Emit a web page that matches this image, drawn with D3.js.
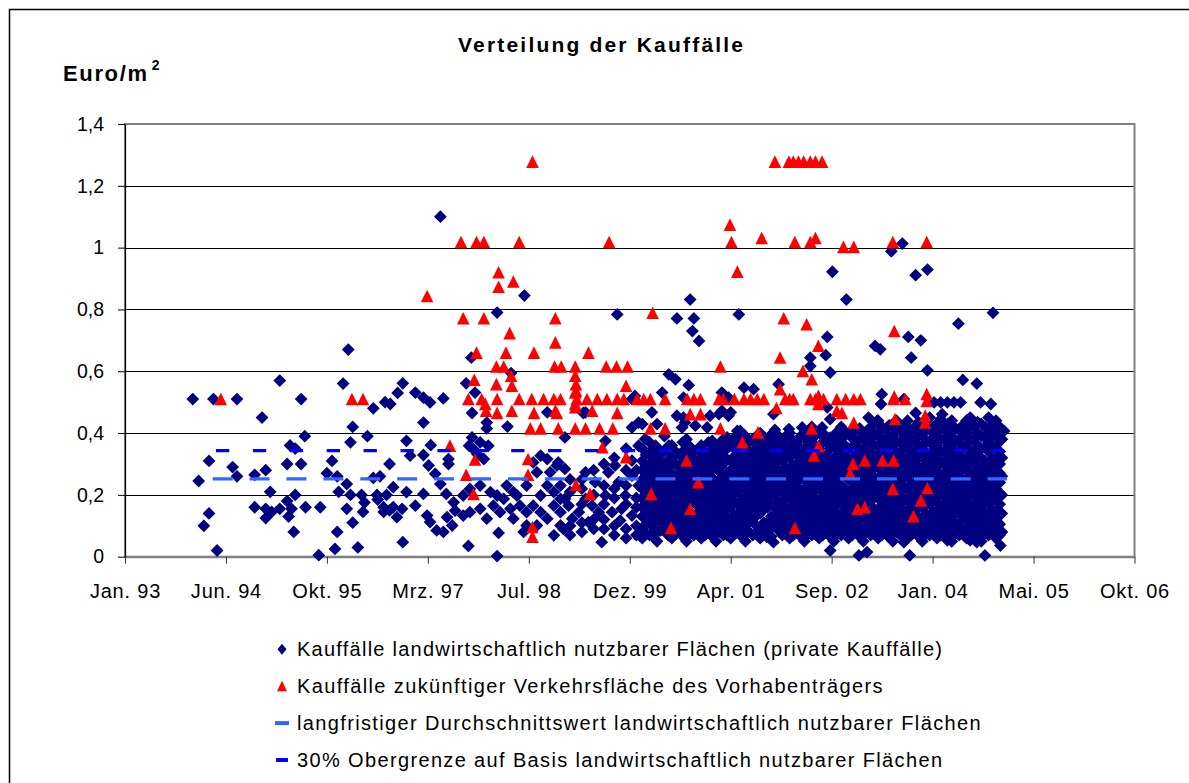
<!DOCTYPE html>
<html><head><meta charset="utf-8">
<script src="https://cdn.jsdelivr.net/npm/d3@7"></script>
<style>body{margin:0;background:#fff} text{font-family:"Liberation Sans",Arial,sans-serif}</style>
</head><body><svg id="c" width="1189" height="783"></svg>
<script>
const chartTitle = "Verteilung der Kauffälle";
const yAxisTitle = "Euro/m";
const xTickLabels = ["Jan. 93","Jun. 94","Okt. 95","Mrz. 97","Jul. 98","Dez. 99","Apr. 01","Sep. 02","Jan. 04","Mai. 05","Okt. 06"];
const xDomain = [1993.08, 2006.78];
const yTickValues = [0,0.2,0.4,0.6,0.8,1,1.2,1.4];
const yTickLabels = ["0","0,2","0,4","0,6","0,8","1","1,2","1,4"];
const seriesNames = [
  "Kauffälle landwirtschaftlich nutzbarer Flächen (private Kauffälle)",
  "Kauffälle zukünftiger Verkehrsfläche des Vorhabenträgers",
  "langfristiger Durchschnittswert landwirtschaftlich nutzbarer Flächen",
  "30% Obergrenze auf Basis landwirtschaftlich nutzbarer Flächen"
];
// private sales: [decimal year, Euro/m²]
const privateSales = [
[1994.00,0.51],[1994.28,0.51],[1994.60,0.51],[1994.94,0.45],[1995.18,0.57],[1995.47,0.51],[1996.04,0.56],[1996.11,0.67],[1996.45,0.48],[1996.61,0.50],[1996.17,0.42],[1996.14,0.37],[1996.37,0.39],[1995.52,0.39],[1995.32,0.36],[1995.39,0.35],[1994.22,0.31],[1994.08,0.245],[1994.54,0.29],[1994.60,0.26],[1994.22,0.14],[1994.15,0.10],[1994.33,0.02],[1995.28,0.30],[1995.47,0.30],[1994.84,0.265],[1994.99,0.28],[1995.05,0.21],[1994.84,0.16],[1994.99,0.155],[1995.07,0.145],[1994.99,0.125],[1995.18,0.155],[1995.28,0.18],[1995.30,0.13],[1995.39,0.20],[1995.34,0.155],[1995.53,0.16],[1995.73,0.16],[1995.37,0.08],[1995.71,0.005],[1995.96,0.08],[1995.93,0.025],[1996.24,0.03],[1995.89,0.31],[1995.82,0.27],[1995.96,0.26],[1996.09,0.235],[1995.98,0.21],[1996.14,0.20],[1996.09,0.155],[1996.29,0.20],[1996.33,0.175],[1996.31,0.145],[1996.50,0.20],[1996.51,0.185],[1996.63,0.20],[1996.67,0.15],[1996.59,0.145],[1996.54,0.26],[1996.45,0.255],[1996.17,0.11],
[1997.36,1.10],[1998.50,0.845],[1998.13,0.79],[1999.76,0.784],[1997.78,0.644],[1996.85,0.561],[1996.78,0.53],[1997.02,0.531],[1997.13,0.515],[1997.22,0.499],[1997.40,0.512],[1996.68,0.494],[1997.13,0.434],[1997.71,0.561],[1997.83,0.531],[1997.79,0.465],[1997.99,0.434],[1997.99,0.415],[1998.27,0.421],[1998.32,0.594],[1998.81,0.467],[1999.30,0.465],[1999.05,0.386],[1999.60,0.375],[2000.00,0.52],[2000.05,0.434],[1996.90,0.375],[1997.23,0.361],[1996.95,0.327],[1997.13,0.329],[1997.47,0.316],[1997.47,0.30],[1996.67,0.30],[1997.20,0.295],[1996.72,0.225],[1996.90,0.209],[1997.13,0.203],[1997.29,0.268],[1997.36,0.235],[1997.44,0.203],[1997.54,0.176],[1996.59,0.16],[1996.72,0.16],[1996.84,0.155],[1997.02,0.165],[1996.77,0.128],[1997.18,0.133],[1997.22,0.112],[1997.31,0.085],[1997.40,0.08],[1997.52,0.101],[1997.45,0.128],[1997.56,0.149],[1996.85,0.047],[1997.74,0.035],[1998.13,0.002],[1998.15,0.077],[1997.79,0.386],[1997.75,0.359],[1997.81,0.348],[1997.90,0.37],[1998.01,0.359],[1997.86,0.332],[1997.95,0.316],
[1997.67,0.198],[1997.76,0.219],[1997.90,0.23],[1998.04,0.209],[1998.13,0.198],[1998.22,0.187],[1998.08,0.165],[1997.90,0.155],[1997.76,0.144],[1997.67,0.133],[1997.99,0.123],[1998.17,0.144],[1998.31,0.155],[1998.40,0.198],[1998.44,0.165],[1998.35,0.123],[1998.53,0.144],[1998.62,0.165],[1998.72,0.198],[1998.81,0.23],[1998.90,0.209],[1998.90,0.165],[1998.81,0.123],[1998.67,0.101],[1998.72,0.144],[1998.53,0.101],[1998.49,0.08],[1998.90,0.069],[1998.99,0.101],[1998.99,0.144],[1998.99,0.187],[1998.35,0.209],[1998.26,0.23],[1998.53,0.23],[1998.62,0.305],[1998.72,0.327],[1998.81,0.316],[1998.67,0.273],[1998.85,0.273],[1998.94,0.295],[1999.55,0.047],
[1998.96,0.305],[1999.05,0.284],[1998.99,0.23],[1999.05,0.187],[1999.10,0.165],[1999.15,0.123],[1999.03,0.09],[1999.24,0.144],[1999.33,0.187],[1999.42,0.165],[1999.37,0.112],[1999.51,0.144],[1999.60,0.198],[1999.64,0.273],[1999.73,0.295],[1999.78,0.241],[1999.69,0.144],[1999.82,0.155],[1999.87,0.198],[1999.96,0.133],[1999.80,0.117],[2000.05,0.23],[1999.46,0.241],[1999.33,0.273],[1999.96,0.262],[1999.96,0.311],[2000.05,0.359],
[2000.87,0.698],[2000.46,0.59],[2000.55,0.574],[2000.73,0.555],[2000.37,0.531],[1999.96,0.51],[2000.66,0.515],[2001.18,0.531],[2001.27,0.515],[1999.33,0.467],[2000.23,0.467],[2000.66,0.45],[2001.14,0.461],[2001.27,0.456],[2000.10,0.429],[1999.96,0.418],[2000.64,0.418],[2000.82,0.424],[2000.98,0.418],[2001.27,0.359],[2000.14,0.381],[2000.28,0.359],[2000.37,0.338],[2000.46,0.359],[2000.73,0.348],[2001.23,0.348],[2001.09,0.327],
[2000.75,0.832],[2000.57,0.771],[2000.80,0.771],[2000.78,0.73],[2001.41,0.784],[2002.68,0.922],[2002.87,0.832],[2002.61,0.711],[2002.59,0.652],[2002.38,0.644],[2002.38,0.617],[2002.65,0.596],[2003.26,0.682],
[2001.95,0.558],[2003.35,0.526],[2003.65,0.51],[2001.88,0.461],[2003.17,0.45],[2003.29,0.44],[2001.48,0.547],[2001.61,0.542],[2001.43,0.407],[2002.09,0.413],[2002.27,0.418],[2002.54,0.418],[2002.74,0.391],[2002.92,0.391],[2002.81,0.413],[2001.97,0.381],[2001.68,0.359],[2003.65,0.413],
[2000.30,0.429],[2000.57,0.456],[2000.68,0.434],[2001.02,0.456],[2001.18,0.472],[2001.30,0.467],[2002.61,0.483],[2002.65,0.445],[2001.25,0.386],[2001.39,0.407],
[2001.79,0.064],[2001.88,0.047],[2002.65,0.02],[2003.04,0.004],[2003.15,0.015],[2001.93,0.101],[2001.07,0.101],
[2003.48,0.988],[2003.63,1.013],[2003.81,0.911],[2003.97,0.929],[2004.86,0.789],[2004.39,0.754],[2003.33,0.671],[2003.71,0.711],[2003.88,0.70],[2003.75,0.644],[2003.97,0.603],[2004.45,0.572],[2004.64,0.56],[2003.34,0.494],[2004.06,0.499],[2004.15,0.499],[2004.24,0.499],[2004.33,0.499],[2004.42,0.499],[2004.69,0.499],[2004.83,0.494],[2003.81,0.465],[2004.17,0.461],[2003.67,0.407],[2005.01,0.407],
[2003.73,0.004],[2004.75,0.004],[2004.96,0.036],[2003.65,0.047],[2003.42,0.069],[2004.24,0.053],[2004.55,0.053],[2004.64,0.047],[2004.92,0.074]
];
// dense part of the private sales, read column by column: [decimal year, [Euro/m² ...]]
const privateSalesDense = [
[1999.12,[0.07,0.10,0.21,0.25]],
[1999.28,[0.08,0.11,0.17,0.22,0.25]],
[1999.44,[0.09,0.12,0.20,0.28]],
[1999.58,[0.09,0.12,0.17,0.23,0.30]],
[1999.72,[0.07,0.10,0.19,0.22,0.32]],
[1999.88,[0.06,0.09,0.17,0.23,0.28,0.35]],
[2000.02,[0.07,0.10,0.16,0.19,0.28]],
[2000.10,[0.06,0.09,0.13,0.16,0.19,0.22,0.25,0.28,0.31,0.35]],
[2000.15,[0.075,0.105,0.14,0.175,0.205,0.24,0.265,0.295,0.33]],
[2000.20,[0.07,0.11,0.14,0.17,0.20,0.23,0.27,0.30,0.33,0.37]],
[2000.25,[0.065,0.095,0.125,0.155,0.19,0.22,0.255,0.285,0.32,0.35]],
[2000.30,[0.05,0.08,0.12,0.15,0.18,0.21,0.24,0.29,0.32,0.35]],
[2000.35,[0.085,0.115,0.145,0.17,0.2,0.235,0.27,0.31,0.34]],
[2000.40,[0.10,0.13,0.16,0.19,0.22,0.26,0.30,0.34,0.39]],
[2000.45,[0.07,0.1,0.135,0.165,0.2,0.23,0.255,0.285,0.31,0.345]],
[2000.50,[0.06,0.09,0.12,0.15,0.18,0.21,0.24,0.27,0.32,0.36]],
[2000.55,[0.08,0.11,0.14,0.165,0.195,0.225,0.26,0.3,0.34]],
[2000.60,[0.08,0.11,0.14,0.17,0.20,0.23,0.26,0.29,0.33]],
[2000.65,[0.065,0.1,0.13,0.155,0.185,0.215,0.245,0.275,0.305,0.34,0.37]],
[2000.70,[0.05,0.09,0.12,0.16,0.19,0.22,0.25,0.28,0.31,0.35,0.38]],
[2000.75,[0.075,0.105,0.145,0.17,0.2,0.235,0.26,0.29,0.325,0.355]],
[2000.80,[0.07,0.10,0.13,0.18,0.21,0.24,0.27,0.30,0.34]],
[2000.85,[0.085,0.115,0.14,0.165,0.2,0.225,0.255,0.29,0.31,0.345]],
[2000.90,[0.06,0.09,0.12,0.15,0.19,0.22,0.25,0.28,0.32,0.36]],
[2000.95,[0.07,0.105,0.13,0.16,0.185,0.215,0.245,0.27,0.3,0.34]],
[2001.00,[0.08,0.11,0.14,0.17,0.20,0.23,0.27,0.30,0.33,0.37]],
[2001.05,[0.065,0.095,0.125,0.165,0.195,0.225,0.255,0.285,0.31,0.345,0.375]],
[2001.10,[0.05,0.09,0.12,0.15,0.18,0.21,0.24,0.29,0.32,0.35]],
[2001.15,[0.08,0.11,0.135,0.16,0.19,0.22,0.25,0.275,0.305,0.33,0.36]],
[2001.20,[0.07,0.10,0.14,0.17,0.20,0.23,0.26,0.30,0.34,0.38]],
[2001.25,[0.07,0.1,0.125,0.155,0.185,0.215,0.24,0.27,0.315,0.35]],
[2001.30,[0.06,0.09,0.12,0.16,0.19,0.22,0.25,0.28,0.31,0.36]],
[2001.35,[0.075,0.105,0.135,0.175,0.205,0.235,0.265,0.29,0.325,0.35,0.385]],
[2001.40,[0.08,0.11,0.14,0.17,0.21,0.24,0.27,0.30,0.33,0.37]],
[2001.45,[0.065,0.095,0.125,0.155,0.185,0.225,0.25,0.285,0.315,0.345,0.38]],
[2001.50,[0.05,0.10,0.13,0.16,0.19,0.22,0.26,0.29,0.32,0.35,0.39]],
[2001.55,[0.08,0.115,0.14,0.17,0.205,0.235,0.27,0.3,0.33,0.37]],
[2001.60,[0.07,0.12,0.15,0.18,0.21,0.24,0.27,0.31,0.34,0.38]],
[2001.65,[0.075,0.1,0.135,0.165,0.195,0.225,0.255,0.285,0.32,0.35,0.39]],
[2001.70,[0.06,0.09,0.14,0.17,0.20,0.23,0.26,0.29,0.33,0.36,0.40]],
[2001.75,[0.075,0.11,0.155,0.185,0.215,0.245,0.275,0.305,0.34,0.375]],
[2001.80,[0.08,0.11,0.16,0.19,0.22,0.25,0.28,0.31,0.35,0.38]],
[2001.85,[0.065,0.095,0.13,0.17,0.205,0.235,0.265,0.295,0.325,0.36,0.395]],
[2001.90,[0.10,0.13,0.16,0.20,0.23,0.26,0.30,0.33,0.37,0.41]],
[2001.95,[0.085,0.12,0.15,0.18,0.21,0.245,0.28,0.315,0.35,0.39]],
[2002.00,[0.07,0.11,0.14,0.17,0.21,0.24,0.27,0.31,0.34,0.38]],
[2002.05,[0.075,0.1,0.13,0.16,0.19,0.225,0.255,0.29,0.325,0.355,0.39]],
[2002.10,[0.06,0.09,0.12,0.15,0.19,0.22,0.25,0.28,0.32,0.36,0.40]],
[2002.15,[0.07,0.105,0.135,0.165,0.2,0.23,0.265,0.295,0.34,0.375]],
[2002.20,[0.08,0.11,0.14,0.17,0.20,0.24,0.27,0.30,0.33,0.37]],
[2002.25,[0.065,0.095,0.125,0.155,0.185,0.215,0.255,0.285,0.315,0.35,0.39]],
[2002.30,[0.05,0.09,0.12,0.16,0.19,0.22,0.25,0.29,0.32,0.35,0.39]],
[2002.35,[0.075,0.11,0.14,0.175,0.205,0.24,0.27,0.31,0.335,0.37,0.405]],
[2002.40,[0.07,0.10,0.14,0.17,0.20,0.23,0.27,0.30,0.34,0.38,0.42]],
[2002.45,[0.085,0.12,0.155,0.185,0.215,0.25,0.285,0.32,0.36,0.395]],
[2002.50,[0.06,0.09,0.12,0.15,0.18,0.22,0.25,0.28,0.31,0.35,0.40]],
[2002.55,[0.07,0.1,0.13,0.165,0.195,0.23,0.26,0.29,0.325,0.37,0.4]],
[2002.60,[0.08,0.11,0.14,0.17,0.21,0.24,0.27,0.30,0.33,0.37]],
[2002.65,[0.065,0.095,0.125,0.155,0.19,0.225,0.255,0.285,0.315,0.35,0.385]],
[2002.70,[0.05,0.09,0.12,0.16,0.19,0.22,0.26,0.29,0.32,0.36,0.39]],
[2002.75,[0.075,0.105,0.14,0.18,0.21,0.24,0.28,0.31,0.345,0.375,0.405]],
[2002.80,[0.07,0.10,0.13,0.17,0.20,0.23,0.27,0.30,0.34,0.38,0.42]],
[2002.85,[0.085,0.115,0.145,0.16,0.19,0.22,0.26,0.29,0.325,0.36,0.395]],
[2002.90,[0.06,0.09,0.12,0.15,0.18,0.21,0.25,0.28,0.31,0.35,0.40]],
[2002.95,[0.07,0.1,0.13,0.16,0.19,0.22,0.24,0.29,0.32,0.355,0.385]],
[2003.00,[0.08,0.11,0.14,0.17,0.20,0.23,0.27,0.30,0.33,0.37,0.41]],
[2003.05,[0.065,0.095,0.125,0.155,0.185,0.215,0.25,0.285,0.31,0.345,0.38,0.415]],
[2003.10,[0.05,0.09,0.13,0.16,0.19,0.22,0.25,0.28,0.32,0.35,0.39]],
[2003.15,[0.08,0.115,0.145,0.175,0.205,0.235,0.265,0.295,0.33,0.37,0.405]],
[2003.20,[0.07,0.10,0.14,0.18,0.21,0.24,0.27,0.31,0.34,0.38,0.42]],
[2003.25,[0.085,0.12,0.155,0.195,0.225,0.255,0.29,0.325,0.36,0.395,0.43]],
[2003.30,[0.06,0.09,0.12,0.15,0.19,0.22,0.25,0.29,0.32,0.36,0.40,0.44]],
[2003.35,[0.07,0.105,0.135,0.165,0.205,0.235,0.265,0.305,0.34,0.38,0.42]],
[2003.40,[0.08,0.11,0.14,0.17,0.20,0.23,0.27,0.30,0.34,0.37,0.41]],
[2003.45,[0.065,0.095,0.125,0.155,0.185,0.215,0.25,0.285,0.32,0.355,0.39,0.425]],
[2003.50,[0.05,0.09,0.12,0.16,0.19,0.22,0.25,0.28,0.32,0.35,0.39,0.43]],
[2003.55,[0.08,0.11,0.14,0.175,0.205,0.235,0.265,0.295,0.335,0.37,0.41,0.44]],
[2003.60,[0.07,0.10,0.13,0.17,0.20,0.24,0.27,0.30,0.33,0.37,0.41]],
[2003.65,[0.085,0.115,0.15,0.185,0.22,0.255,0.285,0.315,0.35,0.39,0.425]],
[2003.70,[0.06,0.09,0.12,0.15,0.19,0.22,0.26,0.29,0.32,0.36,0.39,0.44]],
[2003.75,[0.07,0.1,0.135,0.17,0.2,0.235,0.275,0.305,0.34,0.375,0.41]],
[2003.80,[0.08,0.11,0.14,0.18,0.21,0.24,0.27,0.31,0.34,0.38,0.42]],
[2003.85,[0.065,0.095,0.125,0.16,0.195,0.225,0.255,0.29,0.325,0.36,0.4,0.435]],
[2003.90,[0.05,0.09,0.12,0.16,0.19,0.22,0.25,0.28,0.32,0.35,0.39,0.43]],
[2003.95,[0.075,0.11,0.14,0.175,0.205,0.235,0.265,0.3,0.335,0.37,0.41,0.445]],
[2004.00,[0.07,0.10,0.13,0.17,0.20,0.23,0.27,0.30,0.33,0.37,0.41,0.45]],
[2004.05,[0.085,0.115,0.145,0.18,0.21,0.245,0.28,0.31,0.345,0.385,0.42]],
[2004.10,[0.06,0.09,0.12,0.15,0.19,0.22,0.25,0.29,0.32,0.36,0.40,0.43]],
[2004.15,[0.07,0.105,0.135,0.165,0.205,0.235,0.265,0.31,0.34,0.38,0.415,0.445]],
[2004.20,[0.08,0.11,0.14,0.17,0.20,0.24,0.27,0.30,0.34,0.38,0.42]],
[2004.25,[0.065,0.095,0.125,0.155,0.185,0.22,0.255,0.29,0.32,0.36,0.4,0.43]],
[2004.30,[0.05,0.09,0.12,0.16,0.19,0.22,0.25,0.28,0.32,0.35,0.39,0.44]],
[2004.35,[0.075,0.105,0.14,0.175,0.205,0.24,0.27,0.3,0.34,0.375,0.415]],
[2004.40,[0.07,0.10,0.14,0.17,0.20,0.23,0.27,0.30,0.33,0.37,0.41]],
[2004.45,[0.085,0.12,0.155,0.185,0.215,0.25,0.285,0.315,0.35,0.39,0.425]],
[2004.50,[0.06,0.09,0.12,0.15,0.18,0.22,0.25,0.29,0.32,0.36,0.40,0.44]],
[2004.55,[0.07,0.1,0.135,0.165,0.2,0.235,0.27,0.305,0.34,0.38,0.42,0.45]],
[2004.60,[0.08,0.11,0.14,0.17,0.21,0.24,0.27,0.31,0.34,0.38,0.42]],
[2004.65,[0.065,0.095,0.125,0.155,0.19,0.225,0.255,0.29,0.325,0.36,0.4,0.435]],
[2004.70,[0.05,0.09,0.12,0.16,0.19,0.22,0.26,0.29,0.32,0.35,0.39,0.43]],
[2004.75,[0.075,0.11,0.14,0.175,0.205,0.24,0.275,0.31,0.355,0.385,0.42]],
[2004.80,[0.07,0.10,0.13,0.17,0.20,0.23,0.27,0.30,0.34,0.37,0.41,0.45]],
[2004.85,[0.085,0.115,0.15,0.185,0.215,0.25,0.285,0.315,0.35,0.39,0.425]],
[2004.90,[0.06,0.09,0.12,0.15,0.19,0.22,0.25,0.28,0.32,0.36,0.40,0.44]],
[2004.95,[0.07,0.105,0.135,0.17,0.205,0.24,0.27,0.3,0.34,0.38,0.42]],
[2004.98,[0.08,0.14,0.20,0.26,0.32,0.38,0.41]]
];
// sales of the project developer: [decimal year, Euro/m²]
const developerSales = [
[1994.38,0.51],[1996.16,0.51],[1996.31,0.51],[1997.18,0.843],
[1997.64,1.018],[1997.85,1.018],[1997.95,1.018],[1998.43,1.018],[1999.65,1.018],[1998.61,1.278],
[1998.15,0.92],[1998.15,0.873],[1998.35,0.89],
[1997.67,0.771],[1997.95,0.771],[1998.92,0.771],[1998.92,0.693],[1998.30,0.723],
[1997.85,0.66],[1998.25,0.66],[1998.63,0.66],[1999.37,0.66],
[1998.12,0.615],[1998.22,0.615],[1998.91,0.615],[1999.00,0.615],[1999.19,0.615],[1999.61,0.615],[1999.75,0.615],[1999.90,0.615],
[1998.32,0.585],[1999.19,0.585],[1997.82,0.572],[1998.12,0.558],[1998.33,0.553],[1999.20,0.558],[1999.20,0.537],[1999.88,0.553],[1999.19,0.531],
[1997.74,0.51],[1997.92,0.51],[1998.13,0.51],[1998.43,0.51],[1998.60,0.51],[1998.76,0.51],[1998.90,0.51],[1998.99,0.51],[1999.21,0.51],[1999.35,0.51],[1999.49,0.51],[1999.62,0.51],[1999.76,0.51],[1999.85,0.51],[2000.03,0.51],
[1997.97,0.494],[1997.98,0.472],[1998.33,0.472],[1998.13,0.465],[1998.63,0.465],[1998.92,0.472],[1998.94,0.465],[1999.42,0.472],[1999.76,0.465],[1999.19,0.494],[1999.19,0.483],
[1998.58,0.415],[1998.72,0.415],[1998.96,0.415],[1999.19,0.415],[1999.33,0.415],[1999.52,0.415],[1999.70,0.415],
[1997.49,0.359],[1997.83,0.314],[1997.71,0.265],[1998.55,0.316],[1998.55,0.265],[1997.81,0.203],[1999.20,0.232],[1999.39,0.203],[1999.56,0.354],[1999.88,0.322],[1998.61,0.096],[1998.61,0.064],
[2000.75,0.461],[2000.89,0.461],[2000.70,0.311],[2000.22,0.203],[2000.86,0.241],[2000.75,0.155],[2000.49,0.093],[2001.16,0.615],
[2001.90,1.278],[2002.09,1.278],[2002.15,1.278],[2002.22,1.278],[2002.29,1.278],[2002.38,1.278],[2002.45,1.278],[2002.54,1.278],
[2001.29,1.074],[2001.31,1.018],[2001.39,0.922],[2001.72,1.031],[2002.17,1.018],[2002.38,1.018],[2002.45,1.031],[2002.83,1.002],[2002.97,1.002],
[2000.24,0.789],[2002.02,0.771],[2002.33,0.752],[2002.49,0.682],[2001.97,0.644],[2002.28,0.601],[2002.40,0.574],[2001.97,0.542],[2001.92,0.481],[2002.49,0.52],[2002.49,0.494],
[2000.12,0.51],[2000.21,0.51],[2000.41,0.51],[2000.71,0.51],[2000.80,0.51],[2000.89,0.51],[2001.14,0.51],[2001.20,0.51],[2001.35,0.51],[2001.48,0.51],[2001.57,0.51],[2001.66,0.51],[2001.75,0.51],[2002.04,0.51],[2002.10,0.51],[2002.15,0.51],[2002.38,0.51],[2002.45,0.51],[2002.56,0.51],[2002.74,0.51],[2002.86,0.51],[2002.97,0.51],[2003.06,0.51],[2003.51,0.51],[2003.67,0.51],
[2002.74,0.472],[2002.81,0.465],[2000.21,0.415],[2000.41,0.415],[2001.16,0.415],[2002.40,0.415],[2002.97,0.434],
[2001.67,0.402],[2001.46,0.37],[2002.49,0.357],[2002.43,0.327],[2002.17,0.093],
[2002.96,0.30],[2003.12,0.311],[2002.92,0.268],[2003.02,0.155],[2003.12,0.16],
[2003.53,0.445],[2003.36,0.311],[2003.51,0.311],[2003.50,0.219],
[2003.50,1.018],[2003.96,1.018],[2003.52,0.73],[2003.52,0.518],[2003.96,0.526],[2003.96,0.504],[2003.94,0.456],[2003.94,0.434],[2003.97,0.222],[2003.88,0.182],[2003.78,0.131]
];
const longTermMean = {from:1994.27, to:2005.05, value:0.252};
const upperLimit30 = {from:1994.27, to:2005.05, value:0.343};

const svg = d3.select("#c");
svg.append("rect").attr("width",1189).attr("height",783).attr("fill","#fff");
svg.append("path").attr("d","M9.5,783V9.5H1189").attr("fill","none").attr("stroke","#000").attr("stroke-width",1.5);

const L=125, R=1134.5, T=124, B=556.7;
const x = d3.scaleLinear().domain(xDomain).range([L,R]);
const y = d3.scaleLinear().domain([0,1.4]).range([B,T]);

// gridlines
svg.append("g").selectAll("line").data(yTickValues.filter(v=>v>0 && v<1.4)).join("line")
  .attr("x1",L).attr("x2",R).attr("y1",d=>Math.round(y(d))+0.5).attr("y2",d=>Math.round(y(d))+0.5)
  .attr("stroke","#000").attr("stroke-width",1);
svg.append("rect").attr("x",L).attr("y",T).attr("width",R-L).attr("height",B-T)
  .attr("fill","none").attr("stroke","#808080").attr("stroke-width",2);

// axes
const xTickVals = d3.range(xTickLabels.length).map(i=>xDomain[0]+i*(xDomain[1]-xDomain[0])/(xTickLabels.length-1));
const gx = svg.append("g").attr("transform",`translate(0,${B})`)
  .call(d3.axisBottom(x).tickValues(xTickVals).tickFormat((d,i)=>xTickLabels[i]).tickSize(7).tickSizeOuter(0));
gx.select(".domain").attr("stroke","#808080").attr("stroke-width",2);
gx.selectAll(".tick line").attr("stroke","#333");
gx.selectAll("text").attr("y",41.3).attr("dy",null).attr("font-size",20).attr("letter-spacing",0.8)
  .attr("font-family","Liberation Sans, Arial, sans-serif").attr("fill","#000");
const gy = svg.append("g").attr("transform",`translate(${L},0)`)
  .call(d3.axisLeft(y).tickValues(yTickValues).tickFormat((d,i)=>yTickLabels[i]).tickSize(7).tickSizeOuter(0));
gy.select(".domain").attr("stroke","#000").attr("stroke-width",1.2);
gy.selectAll(".tick line").attr("stroke","#000");
gy.selectAll("text").attr("x",-21).attr("font-size",19.5).attr("font-family","Liberation Sans, Arial, sans-serif").attr("fill","#000");

// markers
const diamond = "M0,-6.4L6.4,0L0,6.4L-6.4,0Z";
const triangle = "M0,-6.4L6.3,6.2L-6.3,6.2Z";
const denseFlat = privateSalesDense.flatMap(([yr,vals])=>vals.map(v=>[yr,v]));
const allPrivate = privateSales.concat(denseFlat);
svg.append("g").selectAll("path").data(allPrivate).join("path")
  .attr("d",diamond).attr("transform",d=>`translate(${x(d[0])},${y(d[1])})`).attr("fill","#000080");
svg.append("g").selectAll("path").data(developerSales).join("path")
  .attr("d",triangle).attr("transform",d=>`translate(${x(d[0])},${y(d[1])})`).attr("fill","#FF0000");

// reference lines
svg.append("line").attr("x1",x(longTermMean.from)).attr("x2",x(longTermMean.to))
  .attr("y1",y(longTermMean.value)).attr("y2",y(longTermMean.value))
  .attr("stroke","#3366FF").attr("stroke-width",3.2).attr("stroke-dasharray","20,16.9");
svg.append("line").attr("x1",x(upperLimit30.from)).attr("x2",x(upperLimit30.to))
  .attr("y1",y(upperLimit30.value)).attr("y2",y(upperLimit30.value))
  .attr("stroke","#0000FF").attr("stroke-width",3.2).attr("stroke-dasharray","13.3,23.6").attr("stroke-dashoffset",-3.3);

// titles
svg.append("text").attr("x",600.5).attr("y",52).attr("text-anchor","middle").attr("font-weight","bold")
  .attr("font-size",21).attr("textLength",285).attr("lengthAdjust","spacing").text(chartTitle);
const yt = svg.append("text").attr("x",63).attr("y",81).attr("font-weight","bold").attr("font-size",22);
yt.append("tspan").attr("textLength",84).attr("lengthAdjust","spacing").text(yAxisTitle);
yt.append("tspan").attr("font-size",14).attr("dx",3).attr("dy",-11).text("2");

// legend
const legendWidths = [645,585.6,683.6,645];
const lg = svg.append("g");
seriesNames.forEach((name,i)=>{
  const cy = 649.3 + i*36.9;
  if(i===0) lg.append("path").attr("d","M0,-5.5L4.5,0L0,5.5L-4.5,0Z").attr("transform",`translate(282,${cy})`).attr("fill","#000080");
  if(i===1) lg.append("path").attr("d","M0,-5.5L5,5L-5,5Z").attr("transform",`translate(282,${cy})`).attr("fill","#FF0000");
  if(i===2) lg.append("line").attr("x1",275).attr("x2",289).attr("y1",cy).attr("y2",cy).attr("stroke","#3366FF").attr("stroke-width",4);
  if(i===3) lg.append("line").attr("x1",276).attr("x2",288).attr("y1",cy).attr("y2",cy).attr("stroke","#0000FF").attr("stroke-width",4);
  lg.append("text").attr("x",297).attr("y",cy+7).attr("font-size",20)
    .attr("textLength",legendWidths[i]).attr("lengthAdjust","spacing").text(name);
});
</script></body></html>
